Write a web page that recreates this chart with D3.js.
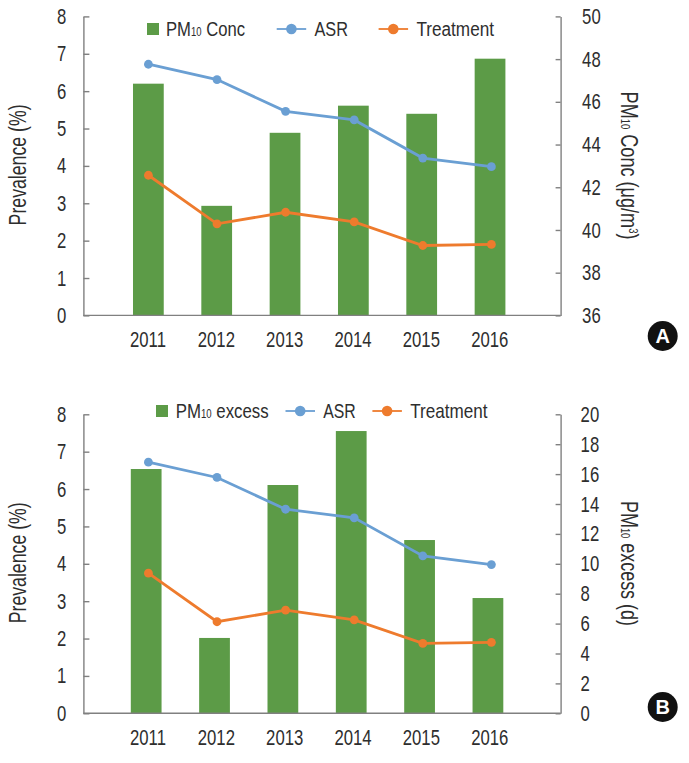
<!DOCTYPE html>
<html>
<head>
<meta charset="utf-8">
<script src="https://cdn.jsdelivr.net/npm/d3@7"></script>
<style>
  html, body { margin: 0; padding: 0; background: #fff; }
  svg { display: block; }
  text { font-family: "Liberation Sans", sans-serif; fill: #2e2e2e; }
</style>
</head>
<body>
<div id="chart"></div>
<script>
const years = ["2011", "2012", "2013", "2014", "2015", "2016"];
const asr = [6.72, 6.31, 5.46, 5.23, 4.21, 3.98];
const treatment = [3.75, 2.45, 2.76, 2.5, 1.87, 1.9];
const pmConc = [46.85, 41.13, 44.55, 45.82, 45.44, 48.02];
const pmExcess = [16.34, 5.04, 15.27, 18.88, 11.59, 7.71];
const prevalenceTicks = [0, 1, 2, 3, 4, 5, 6, 7, 8];
const concTicks = [36, 38, 40, 42, 44, 46, 48, 50];
const excessTicks = [0, 2, 4, 6, 8, 10, 12, 14, 16, 18, 20];

const colors = { bar: "#5c9b47", asr: "#6a9fd3", treatment: "#ee7b2d", axis: "#808080" };
const narrow = 0.76; // no condensed font installed, so squeeze horizontally

const svg = d3.select("#chart").append("svg")
  .attr("width", 689)
  .attr("height", 763);

//Squeeze a text to a given width, then place it
function fit(text, x, y, width, angle = 0) {
  const sx = width / text.node().getComputedTextLength();
  text.attr("transform", `translate(${x},${y}) rotate(${angle}) scale(${sx},1)`);
}

function pmLabel(parent, rest, sup) {
  const t = parent.append("text");
  t.append("tspan").text("PM");
  t.append("tspan").attr("font-size", 12).text("10");
  t.append("tspan").text(rest);
  if (sup) {
    t.append("tspan").attr("font-size", 12).attr("dy", -8).text(sup);
    t.append("tspan").attr("dy", 8).text(")");
  }
  return t;
}

//Draws one panel, the second one only differs by its data and legend spots
function drawPanel(p) {
  const left = 83.4, right = 560.6;
  const g = svg.append("g");

  const yLeft = d3.scaleLinear().domain([0, 8]).range([p.bottom, p.top]);
  const yRight = d3.scaleLinear().domain(p.rightDomain).range([p.bottom, p.top]);
  const xBars = d3.scaleBand().domain(years).range(p.barRange).paddingInner(0.55).paddingOuter(0.275);
  const xLine = d3.scalePoint().domain(years).range([148.4, 491.4]);
  const xLabels = d3.scalePoint().domain(years).range([148, 489.7]);

  //Bars
  g.append("g").selectAll("rect")
    .data(p.bars)
    .enter().append("rect")
    .attr("x", (d, i) => xBars(years[i]))
    .attr("y", (d) => yRight(d))
    .attr("width", xBars.bandwidth())
    .attr("height", (d) => p.bottom - yRight(d))
    .attr("fill", colors.bar);

  //Axes
  const axisLeft = g.append("g")
    .attr("transform", `translate(${left},0)`)
    .call(d3.axisLeft(yLeft).tickValues(prevalenceTicks).tickSize(-6).tickSizeOuter(0));
  const axisRight = g.append("g")
    .attr("transform", `translate(${right},0)`)
    .call(d3.axisRight(yRight).tickValues(p.rightTicks).tickSize(-5).tickSizeOuter(0));
  axisLeft.selectAll("text").attr("x", -17 / narrow);
  axisRight.selectAll("text").attr("x", p.rightPad / narrow);
  [axisLeft, axisRight].forEach((a) => {
    a.selectAll("path, line").attr("stroke", colors.axis).attr("stroke-width", 1.4);
    a.selectAll("text")
      .attr("font-size", 22)
      .attr("fill", "#2e2e2e")
      .attr("font-family", '"Liberation Sans", sans-serif')
      .attr("transform", `scale(${narrow},1)`);
  });

  g.append("line")
    .attr("x1", left).attr("x2", right)
    .attr("y1", p.bottom).attr("y2", p.bottom)
    .attr("stroke", colors.axis).attr("stroke-width", 1.4);

  g.append("g").selectAll("text")
    .data(years)
    .enter().append("text")
    .attr("transform", (d) => `translate(${xLabels(d)},${p.bottom + 31.5}) scale(${narrow},1)`)
    .attr("text-anchor", "middle")
    .attr("font-size", 22)
    .text((d) => d);

  //Lines
  const line = d3.line().x((d, i) => xLine(years[i])).y((d) => yLeft(d));
  [[asr, colors.asr], [treatment, colors.treatment]].forEach(([values, color]) => {
    g.append("path")
      .attr("d", line(values))
      .attr("fill", "none")
      .attr("stroke", color)
      .attr("stroke-width", 2.8);
    g.append("g").selectAll("circle")
      .data(values)
      .enter().append("circle")
      .attr("cx", (d, i) => xLine(years[i]))
      .attr("cy", (d) => yLeft(d))
      .attr("r", 4.4)
      .attr("fill", color);
  });

  //Axis titles
  const midY = (p.top + p.bottom) / 2;
  const leftTitle = g.append("text")
    .attr("text-anchor", "middle")
    .attr("font-size", 23)
    .text("Prevalence (%)");
  fit(leftTitle, 26, midY - 1, 121, -90);

  const rightTitle = pmLabel(g, p.titleRest, p.titleSup)
    .attr("text-anchor", "middle")
    .attr("font-size", 23);
  fit(rightTitle, 621, p.titleY, p.titleWidth, 90);

  //Legend
  const lg = p.legend;
  g.append("rect")
    .attr("x", lg.swatch).attr("y", lg.y - 6)
    .attr("width", 12).attr("height", 12)
    .attr("fill", colors.bar);
  const barLabel = pmLabel(g, " " + lg.barName).attr("font-size", 21);
  fit(barLabel, lg.barText, lg.y + 7, lg.barWidth);

  [["ASR", colors.asr, lg.asr, lg.asrWidth], ["Treatment", colors.treatment, lg.treatment, lg.treatmentWidth]]
    .forEach(([name, color, x, w]) => {
      g.append("line")
        .attr("x1", x).attr("x2", x + 29.5)
        .attr("y1", lg.y).attr("y2", lg.y)
        .attr("stroke", color).attr("stroke-width", 1.8);
      g.append("circle")
        .attr("cx", x + 14.7).attr("cy", lg.y)
        .attr("r", 5.3)
        .attr("fill", color);
      const label = g.append("text").attr("font-size", 21).text(name);
      fit(label, x + 37.8, lg.y + 7, w);
    });

  //Panel badge
  g.append("circle").attr("cx", 662.7).attr("cy", p.badgeY).attr("r", 15).attr("fill", "#111");
  g.append("text")
    .attr("x", 662.7).attr("y", p.badgeY + 7)
    .attr("text-anchor", "middle")
    .attr("font-size", 20)
    .attr("font-weight", "bold")
    .style("fill", "#fff")
    .text(p.badge);
}

drawPanel({
  top: 16.4, bottom: 315.4,
  bars: pmConc, rightDomain: [36, 50], rightTicks: concTicks, rightPad: 21.5,
  barRange: [114.2, 524.2],
  titleRest: " Conc (μg/m", titleSup: "3", titleY: 165.5, titleWidth: 148,
  legend: { y: 29, swatch: 147, barText: 166, barWidth: 79, barName: "Conc",
    asr: 276.7, asrWidth: 33.5, treatment: 378.6, treatmentWidth: 77.7 },
  badge: "A", badgeY: 336
});

drawPanel({
  top: 414.3, bottom: 713.3,
  bars: pmExcess, rightDomain: [0, 20], rightTicks: excessTicks, rightPad: 20,
  barRange: [112, 522.1],
  titleRest: " excess (d)", titleSup: null, titleY: 563.5, titleWidth: 125,
  legend: { y: 411, swatch: 156, barText: 175.7, barWidth: 93, barName: "excess",
    asr: 285.5, asrWidth: 32.5, treatment: 372.4, treatmentWidth: 77.3 },
  badge: "B", badgeY: 707
});
</script>
</body>
</html>
